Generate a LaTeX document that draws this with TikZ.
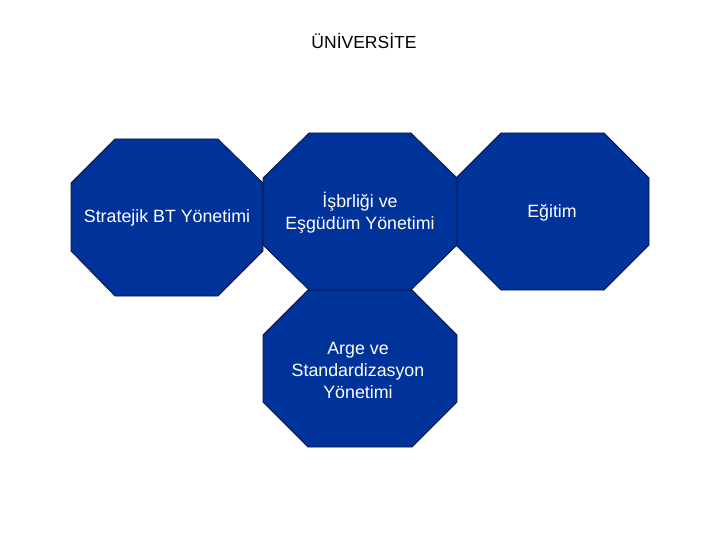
\documentclass[tikz,border=0pt]{standalone}
\usepackage{fontspec}
\setmainfont{Liberation Sans}
\definecolor{octblue}{RGB}{0,51,153}
\definecolor{octline}{RGB}{10,20,60}
\begin{document}
\begin{tikzpicture}[x=1pt,y=-1pt,
  octa/.style={fill=octblue,draw=octline,line width=0.8pt,line join=miter},
  lbl/.style={text=white,align=center,font=\fontsize{17.8}{22}\selectfont,inner sep=0pt},
  ttl/.style={text=black,font=\fontsize{17.5}{21}\selectfont,inner sep=0pt}]
\useasboundingbox (0,0) rectangle (720,540);
% octagons
\draw[octa] (115,139) -- (218,139) -- (263,183) -- (263,251) -- (218,296) -- (115,296) -- (71,251) -- (71,183) -- cycle;
\draw[octa] (501,133) -- (604,133) -- (649,178) -- (649,245) -- (604,290) -- (501,290) -- (456,245) -- (456,178) -- cycle;
\draw[octa] (308,290) -- (412,290) -- (457,335) -- (457,402) -- (412,447) -- (308,447) -- (263,402) -- (263,335) -- cycle;
\draw[octa] (309,133) -- (411,133) -- (457,178) -- (457,245) -- (411,290) -- (309,290) -- (263,245) -- (263,178) -- cycle;
% texts
\node[ttl] (title) at (364,41) {ÜNİVERSİTE};
\node[lbl] (strat) at (167,218) {Stratejik BT Yönetimi};
\node[lbl] (isb) at (360,213) {İşbrliği ve\\Eşgüdüm Yönetimi};
\node[lbl] (egi) at (552,213) {Eğitim};
\node[lbl] (arge) at (358,370) {Arge ve\\Standardizasyon\\Yönetimi};
\end{tikzpicture}
\end{document}
